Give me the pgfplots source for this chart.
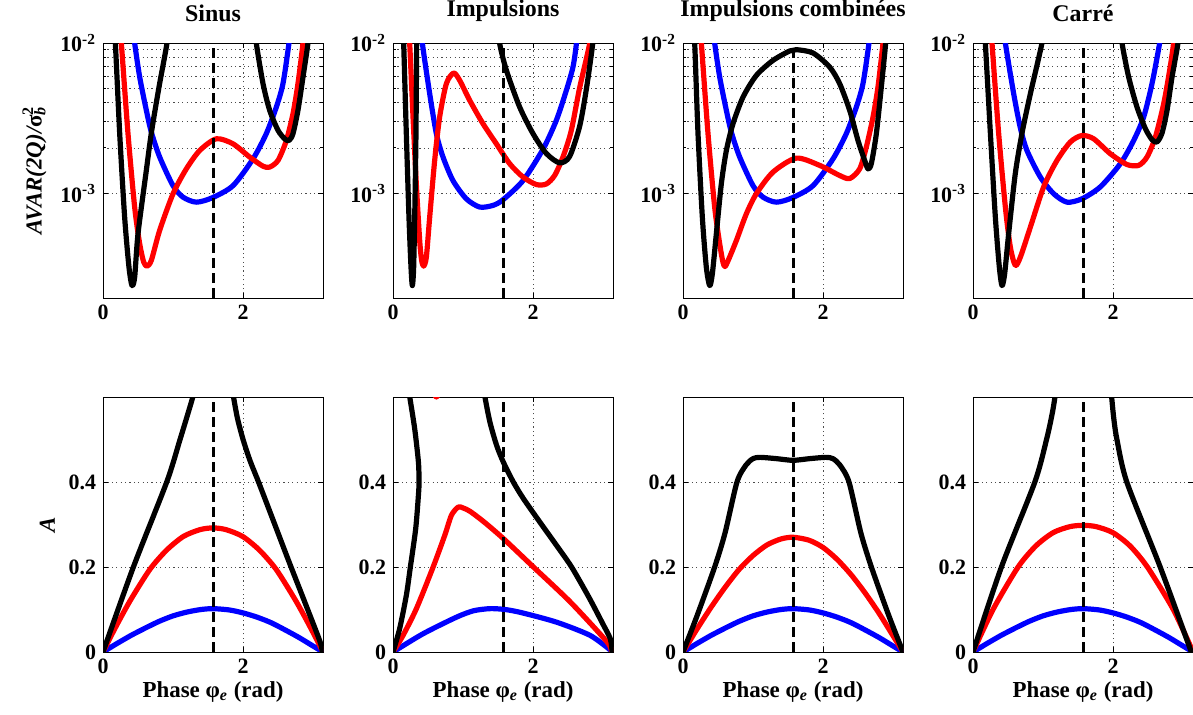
\documentclass[border=0pt]{standalone}
\usepackage{pgfplots}
\pgfplotsset{compat=1.18}
\usepackage{fontspec}
\setmainfont{Liberation Serif}
\definecolor{mblue}{RGB}{0,0,255}
\definecolor{mred}{RGB}{255,0,0}
\pgfplotsset{
  mybase/.style={
    scale only axis, width=110bp, height=127.5bp, anchor=south west,
    xmin=0, xmax=3.14159, xtick={0,2}, xticklabels={\textbf{0},\textbf{2}},
    axis line style={line width=0.5bp, black},
    every tick/.style={line width=0.5bp, black},
    major tick length=2.5bp, minor tick length=1.5bp, tick align=inside,
    xmajorgrids, ymajorgrids,
    grid style={black!70, line width=0.4bp, dash pattern=on 0.6bp off 1.6bp},
    minor grid style={black!70, line width=0.4bp, dash pattern=on 0.6bp off 1.6bp},
    ticklabel style={font=\fontsize{11}{13}\selectfont},
    title style={font=\fontsize{12}{14}\selectfont\bfseries, yshift=1bp},
    label style={font=\fontsize{11.5}{13}\selectfont},
  },
  mytop/.style={mybase, ymin=2e-4, ymax=1e-2, ytick={1e-3,1e-2},
    yticklabels={\textbf{10\textsuperscript{-3}},\textbf{10\textsuperscript{-2}}},
    yminorgrids},
  mybot/.style={mybase, ymin=0, ymax=0.6, ytick={0,0.2,0.4},
    yticklabels={\textbf{0},\textbf{0.2},\textbf{0.4}},
    xlabel={\bfseries Phase φ\textsubscript{\itshape e} (rad)},
    xlabel style={yshift=3bp}},
  cb/.style={mblue, line width=2.6bp, line join=round, line cap=round, smooth, tension=0.45},
  cr/.style={mred, line width=2.6bp, line join=round, line cap=round, smooth, tension=0.45},
  ck/.style={black, line width=2.6bp, line join=round, line cap=round, smooth, tension=0.45},
  dsh/.style={black, line width=1.5bp, dash pattern=on 5bp off 2.5bp},
}
\begin{document}
\begin{tikzpicture}
\useasboundingbox (0,0) rectangle (596.5bp,357.5bp);
% ---------------- Top row ----------------
\begin{axis}[ymode=log, mytop, at={(51.5bp,208.5bp)}, title={Sinus},
  ylabel={\bfseries\itshape AVAR(2Q)/\upshape σ\rlap{\textsubscript{\itshape b}}\textsuperscript{2}}]
\addplot[cb] coordinates {(0.419,1.42e-2) (0.452,1e-2) (0.524,5.93e-3) (0.619,3.56e-3) (0.690,2.55e-3) (0.809,1.74e-3) (1.0,1.12e-3) (1.142,9.4e-4) (1.333,8.7e-4) (1.561,9.31e-4) (1.856,1.12e-3) (2.142,1.69e-3) (2.332,2.49e-3) (2.475,3.74e-3) (2.570,5.36e-3) (2.656,1e-2) (2.689,1.42e-2)};
\addplot[cr] coordinates {(0.238,1.42e-2) (0.262,1e-2) (0.357,2.49e-3) (0.452,8.07e-4) (0.524,4.59e-4) (0.581,3.47e-4) (0.628,3.26e-4) (0.690,3.56e-4) (0.809,5.64e-4) (1.0,9.9e-4) (1.190,1.45e-3) (1.380,1.92e-3) (1.618,2.30e-3) (1.856,2.13e-3) (2.094,1.74e-3) (2.285,1.51e-3) (2.380,1.49e-3) (2.499,1.65e-3) (2.618,2.24e-3) (2.713,3.38e-3) (2.784,5.36e-3) (2.856,1e-2) (2.88,1.42e-2)};
\addplot[ck] coordinates {(0.143,1.42e-2) (0.176,1e-2) (0.238,2.51e-3) (0.309,6.92e-4) (0.371,3.21e-4) (0.414,2.42e-4) (0.452,2.75e-4) (0.5,5.36e-4) (0.619,1.42e-3) (0.690,2.51e-3) (0.8,5.09e-3) (0.914,1e-2) (0.942,1.42e-2)};
\addplot[ck] coordinates {(2.166,1.42e-2) (2.189,1e-2) (2.285,5.36e-3) (2.380,3.56e-3) (2.499,2.62e-3) (2.594,2.30e-3) (2.656,2.24e-3) (2.713,2.49e-3) (2.784,3.56e-3) (2.856,5.93e-3) (2.927,1e-2) (2.951,1.42e-2)};
\addplot[dsh] coordinates {(1.5708,2e-4) (1.5708,1e-2)};
\end{axis}
\begin{axis}[ymode=log, mytop, at={(196.5bp,208.5bp)}, title={Impulsions}]
\addplot[cb] coordinates {(0.395,1.42e-2) (0.419,1e-2) (0.524,4.59e-3) (0.619,2.49e-3) (0.714,1.74e-3) (0.857,1.21e-3) (1.047,9.16e-4) (1.238,8.07e-4) (1.428,8.28e-4) (1.571,9.03e-4) (1.856,1.21e-3) (2.142,1.96e-3) (2.332,3.05e-3) (2.475,4.83e-3) (2.570,6.92e-3) (2.620,1e-2) (2.645,1.42e-2)};
\addplot[cr] coordinates {(0.214,1.42e-2) (0.238,1e-2) (0.286,3.21e-3) (0.333,1.15e-3) (0.381,4.83e-4) (0.409,3.56e-4) (0.438,3.26e-4) (0.476,3.74e-4) (0.524,6.92e-4) (0.595,1.65e-3) (0.666,3.21e-3) (0.762,5.36e-3) (0.866,6.31e-3) (0.952,5.64e-3) (1.095,4.15e-3) (1.285,2.90e-3) (1.476,2.13e-3) (1.666,1.57e-3) (1.856,1.28e-3) (2.047,1.14e-3) (2.189,1.15e-3) (2.308,1.31e-3) (2.427,1.74e-3) (2.545,2.6e-3) (2.664,5.0e-3) (2.81,1e-2) (2.84,1.42e-2)};
\addplot[ck] coordinates {(0.133,1.42e-2) (0.152,1e-2) (0.19,2.51e-3) (0.228,6.92e-4) (0.257,3.21e-4) (0.276,2.42e-4) (0.295,3.21e-4) (0.314,8.93e-4) (0.328,2.51e-3) (0.338,1e-2) (0.342,1.42e-2)};
\addplot[ck] coordinates {(1.50,1.42e-2) (1.522,1e-2) (1.618,6.6e-3) (1.807,3.76e-3) (1.997,2.5e-3) (2.188,1.84e-3) (2.378,1.59e-3) (2.521,1.75e-3) (2.664,2.77e-3) (2.759,4.86e-3) (2.853,1e-2) (2.87,1.42e-2)};
\addplot[dsh] coordinates {(1.5708,2e-4) (1.5708,1e-2)};
\end{axis}
\begin{axis}[ymode=log, mytop, at={(341.5bp,208.5bp)}, title={Impulsions combinées}]
\addplot[cb] coordinates {(0.419,1.42e-2) (0.452,1e-2) (0.524,5.93e-3) (0.619,3.56e-3) (0.690,2.55e-3) (0.809,1.74e-3) (1.0,1.12e-3) (1.142,9.4e-4) (1.333,8.7e-4) (1.561,9.31e-4) (1.856,1.12e-3) (2.142,1.69e-3) (2.332,2.49e-3) (2.475,3.74e-3) (2.570,5.36e-3) (2.656,1e-2) (2.689,1.42e-2)};
\addplot[cr] coordinates {(0.238,1.42e-2) (0.262,1e-2) (0.357,2.49e-3) (0.452,8.07e-4) (0.524,4.59e-4) (0.570,3.47e-4) (0.600,3.24e-4) (0.650,3.6e-4) (0.762,4.83e-4) (0.904,7.27e-4) (1.047,9.9e-4) (1.285,1.38e-3) (1.618,1.71e-3) (1.951,1.53e-3) (2.237,1.31e-3) (2.38,1.25e-3) (2.523,1.45e-3) (2.618,2.03e-3) (2.713,3.21e-3) (2.784,5.09e-3) (2.856,1e-2) (2.88,1.42e-2)};
\addplot[ck] coordinates {(0.143,1.42e-2) (0.167,1e-2) (0.214,2.51e-3) (0.276,6.92e-4) (0.333,3.21e-4) (0.381,2.42e-4) (0.419,2.9e-4) (0.476,5.36e-4) (0.547,1.15e-3) (0.619,1.92e-3) (0.714,2.9e-3) (0.857,4.36e-3) (1.047,6.08e-3) (1.285,7.66e-3) (1.523,8.85e-3) (1.618,9.03e-3) (1.856,8.58e-3) (2.094,6.92e-3) (2.237,5.36e-3) (2.38,3.56e-3) (2.499,2.24e-3) (2.594,1.65e-3) (2.642,1.45e-3) (2.689,1.57e-3) (2.761,2.49e-3) (2.832,5.09e-3) (2.894,1e-2) (2.913,1.42e-2)};
\addplot[dsh] coordinates {(1.5708,2e-4) (1.5708,1e-2)};
\end{axis}
\begin{axis}[ymode=log, mytop, at={(486.5bp,208.5bp)}, title={Carré}]
\addplot[cb] coordinates {(0.43,1.42e-2) (0.462,1e-2) (0.581,4.59e-3) (0.676,2.72e-3) (0.771,1.92e-3) (0.961,1.28e-3) (1.152,9.9e-4) (1.342,8.7e-4) (1.556,9.16e-4) (1.818,1.1e-3) (2.104,1.57e-3) (2.294,2.24e-3) (2.437,3.21e-3) (2.556,5.36e-3) (2.665,1e-2) (2.70,1.42e-2)};
\addplot[cr] coordinates {(0.248,1.42e-2) (0.271,1e-2) (0.366,2.51e-3) (0.462,8.07e-4) (0.533,4.37e-4) (0.604,3.3e-4) (0.676,3.74e-4) (0.819,5.93e-4) (1.009,1.1e-3) (1.199,1.65e-3) (1.39,2.19e-3) (1.556,2.42e-3) (1.723,2.3e-3) (1.961,1.83e-3) (2.199,1.55e-3) (2.366,1.53e-3) (2.485,1.74e-3) (2.604,2.36e-3) (2.723,3.94e-3) (2.808,6.58e-3) (2.865,1e-2) (2.89,1.42e-2)};
\addplot[ck] coordinates {(0.152,1.42e-2) (0.176,1e-2) (0.248,2.51e-3) (0.319,6.92e-4) (0.376,3.21e-4) (0.414,2.42e-4) (0.452,2.9e-4) (0.509,5.36e-4) (0.604,1.35e-3) (0.70,2.51e-3) (0.819,4.59e-3) (0.985,1e-2) (1.02,1.42e-2)};
\addplot[ck] coordinates {(2.104,1.42e-2) (2.128,1e-2) (2.223,5.93e-3) (2.342,3.74e-3) (2.461,2.69e-3) (2.556,2.27e-3) (2.627,2.19e-3) (2.699,2.51e-3) (2.771,3.56e-3) (2.842,5.93e-3) (2.927,1e-2) (2.951,1.42e-2)};
\addplot[dsh] coordinates {(1.5708,2e-4) (1.5708,1e-2)};
\end{axis}
% ---------------- Bottom row ----------------
\begin{axis}[mybot, at={(51.5bp,31.5bp)}, ylabel={\bfseries\itshape A}]
\addplot[cb] coordinates {(0,0) (0.2,0.02) (0.4,0.039) (0.6,0.056) (0.8,0.072) (1.0,0.085) (1.2,0.094) (1.4,0.1) (1.571,0.102) (1.8,0.099) (2.0,0.092) (2.2,0.082) (2.4,0.069) (2.6,0.052) (2.8,0.034) (3.0,0.014) (3.1416,0)};
\addplot[cr] coordinates {(0,0) (0.1,0.033) (0.25,0.08) (0.41,0.127) (0.672,0.195) (0.91,0.24) (1.149,0.272) (1.387,0.288) (1.571,0.292) (1.755,0.288) (1.993,0.272) (2.232,0.24) (2.47,0.195) (2.73,0.127) (2.89,0.08) (3.04,0.033) (3.1416,0)};
\addplot[ck] coordinates {(0,0) (0.434,0.2) (0.91,0.4) (1.10,0.5) (1.22,0.565) (1.282,0.6) (1.3,0.62)};
\addplot[ck] coordinates {(1.85,0.62) (1.864,0.6) (1.92,0.55) (2.0,0.5) (2.1,0.45) (2.221,0.4) (2.43,0.31) (2.65,0.215) (2.88,0.118) (3.10,0.024) (3.13,0.0)};
\addplot[dsh] coordinates {(1.5708,0) (1.5708,0.6)};
\end{axis}
\begin{axis}[mybot, at={(196.5bp,31.5bp)}]
\addplot[cb] coordinates {(0,0) (0.43,0.043) (0.907,0.082) (1.15,0.097) (1.384,0.102) (1.6,0.1) (1.85,0.092) (2.339,0.07) (2.816,0.039) (3.1,0.005)};
\addplot[cr] coordinates {(0,0) (0.143,0.039) (0.334,0.102) (0.573,0.2) (0.74,0.275) (0.835,0.322) (0.931,0.341) (1.0,0.339) (1.1,0.331) (1.3,0.306) (1.575,0.267) (2.005,0.2) (2.53,0.118) (3.055,0.024) (3.12,0.0)};
\addplot[cr] coordinates {(0.55,0.62) (0.619,0.6) (0.69,0.62)};
\addplot[ck] coordinates {(0,0) (0.095,0.055) (0.19,0.133) (0.248,0.2) (0.324,0.29) (0.363,0.369) (0.372,0.4) (0.363,0.447) (0.31,0.525) (0.239,0.6) (0.22,0.62)};
\addplot[ck] coordinates {(1.30,0.62) (1.313,0.6) (1.384,0.541) (1.48,0.486) (1.575,0.447) (1.718,0.4) (1.862,0.361) (2.1,0.305) (2.33,0.252) (2.55,0.2) (2.8,0.128) (3.0,0.065) (3.103,0.031) (3.13,0.0)};
\addplot[dsh] coordinates {(1.5708,0) (1.5708,0.6)};
\end{axis}
\begin{axis}[mybot, at={(341.5bp,31.5bp)}]
\addplot[cb] coordinates {(0,0) (0.2,0.02) (0.4,0.039) (0.6,0.056) (0.8,0.072) (1.0,0.085) (1.2,0.094) (1.4,0.1) (1.571,0.102) (1.8,0.099) (2.0,0.092) (2.2,0.082) (2.4,0.069) (2.6,0.052) (2.8,0.034) (3.0,0.014) (3.1416,0)};
\addplot[cr] coordinates {(0,0) (0.2,0.054) (0.4,0.105) (0.6,0.152) (0.8,0.194) (1.0,0.227) (1.2,0.252) (1.4,0.266) (1.571,0.27) (1.8,0.263) (2.0,0.246) (2.2,0.218) (2.4,0.182) (2.6,0.139) (2.8,0.091) (3.0,0.038) (3.1416,0)};
\addplot[ck] coordinates {(0,0) (0.2,0.085) (0.452,0.2) (0.6,0.28) (0.771,0.4) (0.9,0.44) (1.0,0.455) (1.1,0.458) (1.333,0.455) (1.571,0.451) (1.809,0.455) (2.04,0.458) (2.14,0.455) (2.24,0.44) (2.37,0.4) (2.54,0.28) (2.69,0.2) (2.94,0.085) (3.1416,0)};
\addplot[dsh] coordinates {(1.5708,0) (1.5708,0.6)};
\end{axis}
\begin{axis}[mybot, at={(486.5bp,31.5bp)}]
\addplot[cb] coordinates {(0,0) (0.2,0.02) (0.4,0.039) (0.6,0.056) (0.8,0.072) (1.0,0.085) (1.2,0.094) (1.4,0.1) (1.571,0.102) (1.8,0.099) (2.0,0.092) (2.2,0.082) (2.4,0.069) (2.6,0.052) (2.8,0.034) (3.0,0.014) (3.1416,0)};
\addplot[cr] coordinates {(0,0) (0.286,0.1) (0.644,0.2) (0.9,0.25) (1.146,0.281) (1.384,0.295) (1.571,0.298) (1.758,0.295) (1.996,0.281) (2.24,0.25) (2.49,0.2) (2.86,0.1) (3.1416,0)};
\addplot[ck] coordinates {(0,0) (0.406,0.2) (0.883,0.4) (1.05,0.5) (1.13,0.56) (1.17,0.6) (1.18,0.62)};
\addplot[ck] coordinates {(1.975,0.62) (1.98,0.6) (2.01,0.55) (2.053,0.502) (2.196,0.4) (2.673,0.2) (3.10,0.008) (3.12,0.0)};
\addplot[dsh] coordinates {(1.5708,0) (1.5708,0.6)};
\end{axis}
\end{tikzpicture}
\end{document}
